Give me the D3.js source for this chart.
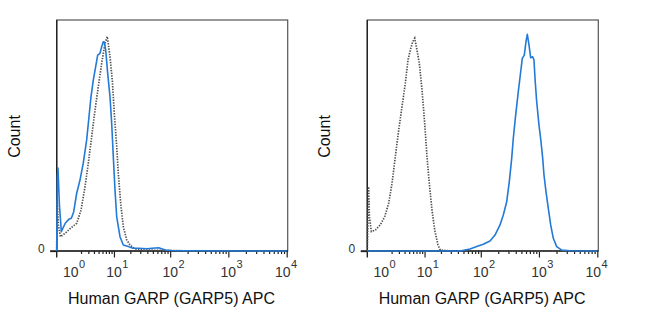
<!DOCTYPE html>
<html><head><meta charset="utf-8">
<script src="https://cdn.jsdelivr.net/npm/d3@7"></script>
<style>body{margin:0;background:#fff}svg{display:block;font-family:"Liberation Sans",Arial,sans-serif}</style>
</head><body><svg id="c" width="650" height="325"></svg>
<script>
// ---- data ----
const labelTicks = [1, 10, 100, 1000, 10000];
const labelExponents = ["0", "1", "2", "3", "4"];
const majorTicks = [10, 100, 1000, 10000];
const minorTicks = [2,3,4,5,6,7,8,9,20,30,40,50,60,70,80,90,200,300,400,500,600,700,800,900,2000,3000,4000,5000,6000,7000,8000,9000];
const yTicks = [0];
const xTitle = "Human GARP (GARP5) APC";
const yTitle = "Count";

// left panel: stained (blue) and control (gray dotted)
const leftBlueX = [0.15,0.18,0.21,0.28,0.38,0.61,0.85,1.05,1.25,1.53,1.88,2.28,2.75,3.11,3.45,3.87,4.35,4.79,5.34,5.78,6.22,6.52,6.94,7.59,8.41,9.06,9.72,10.46,11.26,12.96,14.9,18.36,22.3,28.2,39.5,48.3,63.2,82.3,107.5,160,10000];
const leftBlueY = [0,31.6,35.9,19.9,8.4,12.0,13.7,14.2,17.0,25.0,30.7,38.0,48.1,58.1,66.8,74.0,79.8,84.8,85.6,88.4,90.6,90.5,87.0,76.9,66.8,55.3,40.8,26.4,14.8,6.2,2.6,1.9,1.2,1.2,1.0,1.2,1.4,0.4,0.2,0.1,0];
const leftGrayX = [0.15,0.17,0.23,0.33,0.61,0.97,1.53,2.0,2.51,3.0,3.57,4.21,4.93,5.78,6.73,7.46,8.41,9.3,10.15,11.26,12.05,13.35,14.9,17.18,19.71,24.2,36.4,99.3,326,10000];
const leftGrayY = [0,22.1,11.3,6.2,7.7,9.8,12.0,17.7,27.8,38.0,49.5,61.0,71.1,81.3,89.9,92.8,84.1,74.0,59.6,45.2,33.6,20.6,10.5,4.8,2.6,0.9,0.4,0.2,0,0];

// right panel
const rightBlueX = [0.15,43.5,65,85,110.5,144.3,176,214.5,244.5,279.7,310,340.9,363.1,399.3,442.5,486.5,518.3,560.9,599.9,631.5,675.3,722.2,781.6,822.7,855.9,915.3,1002,1085,1160,1221,1321,1447,1590,1762,2015,2455,3406,10000];
const rightBlueY = [0,0,0.9,1.9,2.9,4.3,6.9,11.3,15.6,21.3,30.0,40.1,48.8,58.9,69.0,77.6,83.4,84.8,90.6,93.8,89.2,83.7,84.1,82.7,74.8,64.6,54.5,47.3,40.1,32.9,25.7,18.5,11.3,5.5,1.9,0.4,0.1,0];
const rightGrayX = [0.15,0.21,0.25,0.35,0.58,0.92,1.28,1.67,2.05,2.47,2.97,3.52,4.15,4.73,5.27,5.89,6.46,7.16,7.94,8.95,10.06,11.11,12.26,13.75,15.41,17.69,19.46,29,10000];
const rightGrayY = [0,27.8,14.8,8.4,9.1,11.3,14.8,20.6,29.3,40.8,52.4,62.5,72.6,82.7,87.0,90.6,92.1,87.0,81.3,69.7,55.3,40.8,29.3,17.7,9.1,2.6,0.4,0,0];

// ---- drawing ----
const svg = d3.select("#c");
svg.append("rect").attr("width",650).attr("height",325).attr("fill","#fff");

const panels = [
  {x0: 56.7, blueX: leftBlueX, blueY: leftBlueY, grayX: leftGrayX, grayY: leftGrayY},
  {x0: 367.3, blueX: rightBlueX, blueY: rightBlueY, grayX: rightGrayX, grayY: rightGrayY}
];
const TOP = 20, BASE = 251, W = 231;
const BLUE = "#2379d6", GRAY = "#505050", AX = "#222";

panels.forEach(p => {
  const g = svg.append("g");
  const x = d3.scaleSymlog().constant(1).domain([0.15, 10000]).range([p.x0, p.x0 + 230]);
  const y = d3.scaleLinear().domain([0, 100]).range([BASE, TOP]);

  // frame
  g.append("rect").attr("x", p.x0).attr("y", TOP).attr("width", W).attr("height", BASE - TOP)
    .attr("fill", "none").attr("stroke", "#555").attr("stroke-width", 1.2);

  // x axis: minor and major ticks
  const ax1 = g.append("g").attr("transform", `translate(0,${BASE})`)
    .call(d3.axisBottom(x).tickValues(minorTicks).tickSize(3).tickSizeOuter(0).tickFormat(""));
  const ax2 = g.append("g").attr("transform", `translate(0,${BASE})`)
    .call(d3.axisBottom(x).tickValues(majorTicks).tickSize(6.5).tickSizeOuter(0).tickFormat(""));
  [ax1, ax2].forEach(a => {
    a.select(".domain").remove();
    a.selectAll(".tick line").attr("stroke", AX).attr("stroke-width", 1.2);
  });
  g.append("line").attr("x1", p.x0 - 6.5).attr("x2", p.x0 + W).attr("y1", BASE).attr("y2", BASE)
    .attr("stroke", AX).attr("stroke-width", 1.4);

  // y axis
  const ay = g.append("g").attr("transform", `translate(${p.x0},0)`)
    .call(d3.axisLeft(y).tickValues(yTicks).tickSize(6.5).tickPadding(5.5).tickFormat(d3.format("d")));
  ay.select(".domain").remove();
  ay.selectAll(".tick line").attr("stroke", AX).attr("stroke-width", 1.3);
  ay.selectAll(".tick text").attr("font-size", 12).attr("fill", "#333").attr("dy", "0.1em")
    .attr("font-family", "Liberation Sans, Arial, sans-serif");
  g.append("line").attr("x1", p.x0).attr("x2", p.x0).attr("y1", TOP).attr("y2", BASE + 6.5)
    .attr("stroke", AX).attr("stroke-width", 1.4);

  // curves (drawn over the axis line, as in the reference)
  const line = (X, Y) => d3.line().x(i => x(X[i])).y(i => y(Y[i]))(d3.range(X.length));
  g.append("path").attr("d", line(p.grayX, p.grayY)).attr("fill", "none")
    .attr("stroke", GRAY).attr("stroke-width", 1.7).attr("stroke-dasharray", "1.4,1.3");
  g.append("path").attr("d", line(p.blueX, p.blueY)).attr("fill", "none")
    .attr("stroke", BLUE).attr("stroke-width", 1.6).attr("stroke-linejoin", "round");

  // decade labels
  labelTicks.forEach((v, i) => {
    const cx = x(v) + (i === labelTicks.length - 1 ? -4 : 0);
    g.append("text").attr("x", cx).attr("y", 277).attr("text-anchor", "middle")
      .attr("font-size", 14).attr("fill", "#333").text("10");
    g.append("text").attr("x", cx + 8.2).attr("y", 267.5).attr("text-anchor", "start")
      .attr("font-size", 11).attr("fill", "#333").text(labelExponents[i]);
  });

  // titles
  g.append("text").attr("x", p.x0 + 114.8).attr("y", 304).attr("text-anchor", "middle")
    .attr("font-size", 16).attr("fill", "#111").text(xTitle);
  g.append("text").attr("transform", `translate(${p.x0 - 37.2},136.5) rotate(-90)`)
    .attr("text-anchor", "middle").attr("font-size", 16).attr("fill", "#111").text(yTitle);
});
</script></body></html>
